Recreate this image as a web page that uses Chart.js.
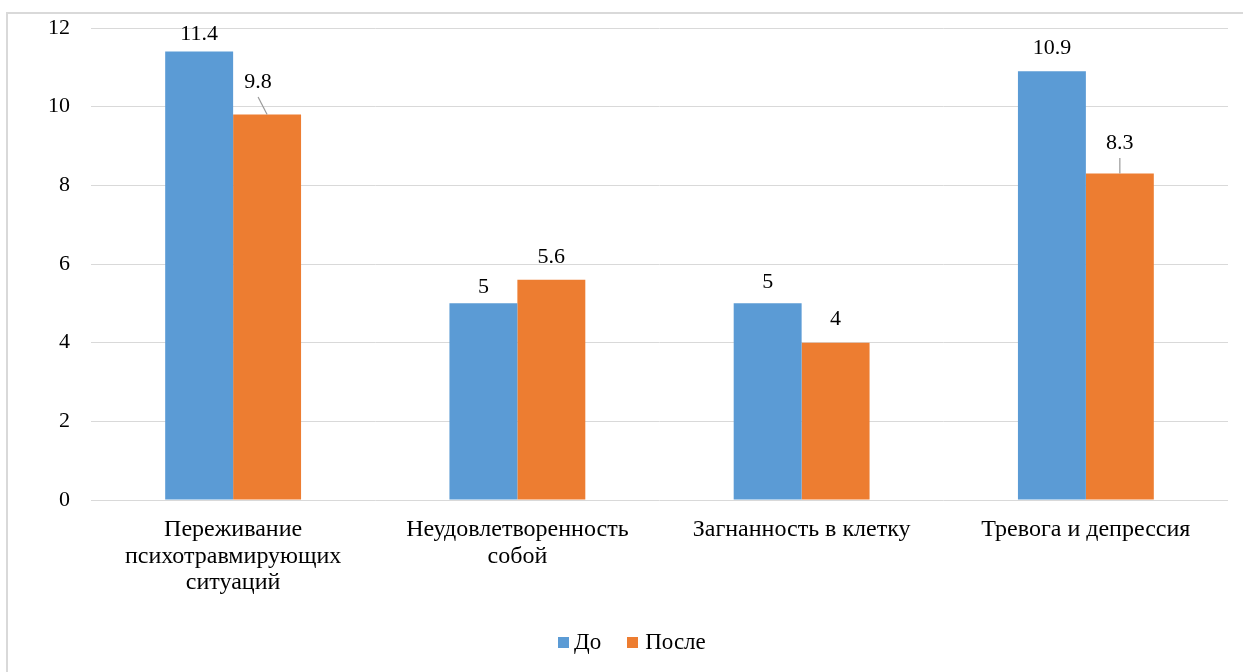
<!DOCTYPE html>
<html lang="ru">
<head>
<meta charset="utf-8">
<title>До и После</title>
<script src="https://cdn.jsdelivr.net/npm/chart.js@4.4.1/dist/chart.umd.min.js"></script>
<style>
  html, body { margin: 0; padding: 0; background: #ffffff; }
  #wrap { position: relative; width: 1243px; height: 672px; overflow: hidden; }
  #frame {
    position: absolute; left: 6px; top: 12px; width: 1300px; height: 700px;
    border-left: 2px solid #d9d9d9; border-top: 2px solid #d9d9d9; box-sizing: border-box;
  }
  #chart { position: absolute; left: 0; top: 0; }
  #legend {
    position: absolute; left: 558px; top: 629px; display: flex; align-items: center;
    font-family: "Liberation Serif", "Times New Roman", serif; font-size: 23px; color: #000;
  }
  #legend .box { width: 11px; height: 11px; margin-right: 5px; }
  #legend .item { display: flex; align-items: center; margin-right: 26px; }
  #legend .item + .item .box { margin-right: 7px; }
</style>
</head>
<body>
<div id="wrap">
  <div id="frame"></div>
  <canvas id="chart" width="1243" height="672"></canvas>
  <div id="legend"></div>
</div>
<script>
// Categories and the two series (scores before and after)
const categories = [
  ["Переживание", "психотравмирующих", "ситуаций"],
  ["Неудовлетворенность", "собой"],
  ["Загнанность в клетку"],
  ["Тревога и депрессия"]
];
const seriesNames = ["До", "После"];
const valuesBefore = [11.4, 5, 5, 10.9];
const valuesAfter = [9.8, 5.6, 4, 8.3];
const yTicks = [0, 2, 4, 6, 8, 10, 12];

const colors = ["#5B9BD5", "#ED7D31"];
const FONT = '"Liberation Serif", "Times New Roman", serif';
const NUM_SIZE = 22;   // numbers: axis ticks and value labels
const TEXT_SIZE = 24;  // category names

// Plot area edges inside the 1243x672 canvas
const PLOT = { left: 91, right: 1228, top: 28, bottom: 500 };

// Per-label placement: baseline distance above the bar top, horizontal shift,
// and optional leader line back to the bar.
const labelPlacement = [
  [{ up: 12 }, { up: 10 }, { up: 15.5 }, { up: 17 }],
  [{ up: 26.5, dx: -9, leader: true }, { up: 16.5 }, { up: 17.5 }, { up: 24.5, leader: true }]
];

const valueLabels = {
  id: "valueLabels",
  afterDatasetsDraw(chart) {
    const ctx = chart.ctx;
    ctx.save();
    ctx.font = NUM_SIZE + "px " + FONT;
    ctx.fillStyle = "#000";
    ctx.textAlign = "center";
    ctx.textBaseline = "alphabetic";
    chart.data.datasets.forEach((ds, di) => {
      const meta = chart.getDatasetMeta(di);
      meta.data.forEach((bar, i) => {
        const p = labelPlacement[di][i];
        const dx = p.dx || 0;
        const lx = bar.x + dx;
        const ly = bar.y - p.up;
        if (p.leader) {
          ctx.strokeStyle = "#9a9a9a";
          ctx.lineWidth = 1.2;
          ctx.beginPath();
          ctx.moveTo(lx, ly + 9);
          ctx.lineTo(bar.x, bar.y);
          ctx.stroke();
        }
        ctx.fillText(String(ds.data[i]), lx, ly);
      });
    });
    ctx.restore();
  }
};

const chart = new Chart(document.getElementById("chart"), {
  type: "bar",
  data: {
    labels: categories,
    datasets: seriesNames.map((name, k) => ({
      label: name,
      data: k === 0 ? valuesBefore : valuesAfter,
      backgroundColor: colors[k],
      borderWidth: 0,
      barPercentage: 1,
      categoryPercentage: 0.478
    }))
  },
  options: {
    responsive: false,
    animation: false,
    devicePixelRatio: 1,
    layout: { padding: { top: PLOT.top, right: 1243 - PLOT.right, left: 0, bottom: 0 } },
    plugins: { legend: { display: false }, tooltip: { enabled: false } },
    scales: {
      x: {
        grid: { display: false },
        border: { display: false },
        ticks: {
          color: "#000",
          font: { family: FONT, size: TEXT_SIZE, lineHeight: 1.1 },
          padding: 9,
          maxRotation: 0,
          autoSkip: false
        },
        afterFit(scale) { scale.height = 672 - PLOT.bottom; }
      },
      y: {
        min: 0,
        max: 12,
        afterBuildTicks(scale) { scale.ticks = yTicks.map(v => ({ value: v })); },
        grid: { color: "#d9d9d9", lineWidth: 1, drawTicks: false },
        border: { display: false },
        ticks: {
          color: "#000",
          font: { family: FONT, size: NUM_SIZE },
          padding: 21
        },
        afterFit(scale) {
          scale.width = PLOT.left;
          // keep the value axis exactly between the plot's top and bottom edges
          scale.paddingTop = 0;
          scale.paddingBottom = 0;
        }
      }
    }
  },
  plugins: [valueLabels]
});

// Legend below the plot
const legend = document.getElementById("legend");
seriesNames.forEach((name, k) => {
  const item = document.createElement("div");
  item.className = "item";
  const box = document.createElement("div");
  box.className = "box";
  box.style.background = colors[k];
  const txt = document.createElement("span");
  txt.textContent = name;
  item.appendChild(box);
  item.appendChild(txt);
  legend.appendChild(item);
});
</script>
</body>
</html>
